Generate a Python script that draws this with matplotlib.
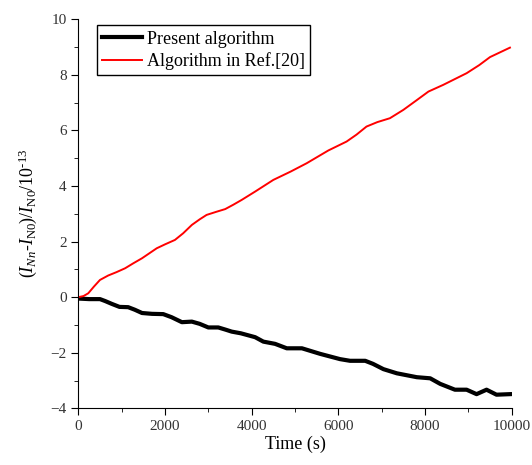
import matplotlib
matplotlib.use("Agg")
import matplotlib.pyplot as plt
from matplotlib.ticker import MultipleLocator

# Data
t_present = [0, 250, 500, 620, 770, 950, 1150, 1300, 1470, 1700, 1960, 2150, 2390,
             2620, 2800, 3000, 3230, 3400, 3540, 3750, 4080, 4270, 4540, 4810, 5160,
             5580, 6040, 6270, 6620, 6800, 7040, 7350, 7810, 8120, 8350, 8690, 8960,
             9190, 9420, 9650, 9960]
present = [-0.05, -0.07, -0.07, -0.14, -0.24, -0.35, -0.36, -0.45, -0.57, -0.60, -0.61,
           -0.72, -0.90, -0.88, -0.96, -1.09, -1.09, -1.17, -1.24, -1.30, -1.44, -1.60,
           -1.68, -1.84, -1.84, -2.04, -2.23, -2.29, -2.29, -2.40, -2.59, -2.74, -2.88,
           -2.92, -3.12, -3.33, -3.33, -3.49, -3.33, -3.51, -3.49]

t_ref = [0, 120, 230, 360, 500, 690, 880, 1080, 1270, 1470, 1640, 1810, 2000, 2230,
         2420, 2620, 2800, 2960, 3180, 3390, 3580, 3770, 4080, 4500, 4900, 5270, 5770,
         6190, 6420, 6650, 6900, 7190, 7500, 7800, 8080, 8420, 8960, 9250, 9500, 9960]
ref20 = [0.0, 0.04, 0.14, 0.38, 0.62, 0.78, 0.90, 1.04, 1.22, 1.40, 1.58, 1.76, 1.90,
         2.06, 2.30, 2.60, 2.80, 2.96, 3.07, 3.17, 3.33, 3.50, 3.80, 4.22, 4.52, 4.82,
         5.28, 5.60, 5.85, 6.14, 6.30, 6.44, 6.74, 7.08, 7.40, 7.64, 8.06, 8.35, 8.64,
         8.98]

plt.rcParams["font.family"] = "Liberation Serif"
plt.rcParams["mathtext.fontset"] = "custom"
plt.rcParams["mathtext.rm"] = "Liberation Serif"
plt.rcParams["mathtext.it"] = "Liberation Serif:italic"

fig = plt.figure(figsize=(5.32, 4.65), dpi=100)
ax = fig.add_axes([0.1472, 0.1219, 0.8146, 0.8366])

ax.plot(t_present, present, color="black", linewidth=3.0, label="Present algorithm")
ax.plot(t_ref, ref20, color="red", linewidth=1.4, label="Algorithm in Ref.[20]")

ax.set_xlim(0, 10000)
ax.set_ylim(-4, 10)
ax.xaxis.set_major_locator(MultipleLocator(2000))
ax.xaxis.set_minor_locator(MultipleLocator(1000))
ax.yaxis.set_major_locator(MultipleLocator(2))
ax.yaxis.set_minor_locator(MultipleLocator(1))
ax.tick_params(which="both", direction="out", labelsize=11, color="black",
               labelcolor="#333333")
ax.tick_params(which="major", length=5)
ax.tick_params(which="minor", length=3)

ax.spines["top"].set_visible(False)
ax.spines["right"].set_visible(False)

ax.set_xlabel("Time (s)", fontsize=13, labelpad=2)
ax.set_ylabel("$(I_{Nn}$-$I_{\\mathrm{N0}})/I_{\\mathrm{N0}}/10^{\u201013}$",
              fontsize=13, labelpad=8)

leg = ax.legend(loc="upper left", bbox_to_anchor=(0.042, 0.985), fontsize=13,
                frameon=True, fancybox=False, edgecolor="black", framealpha=1,
                handlelength=2.2, borderpad=0.3, labelspacing=0.25,
                handletextpad=0.3, borderaxespad=0)
leg.get_frame().set_linewidth(1.0)

fig.savefig("out.png", dpi=100)
